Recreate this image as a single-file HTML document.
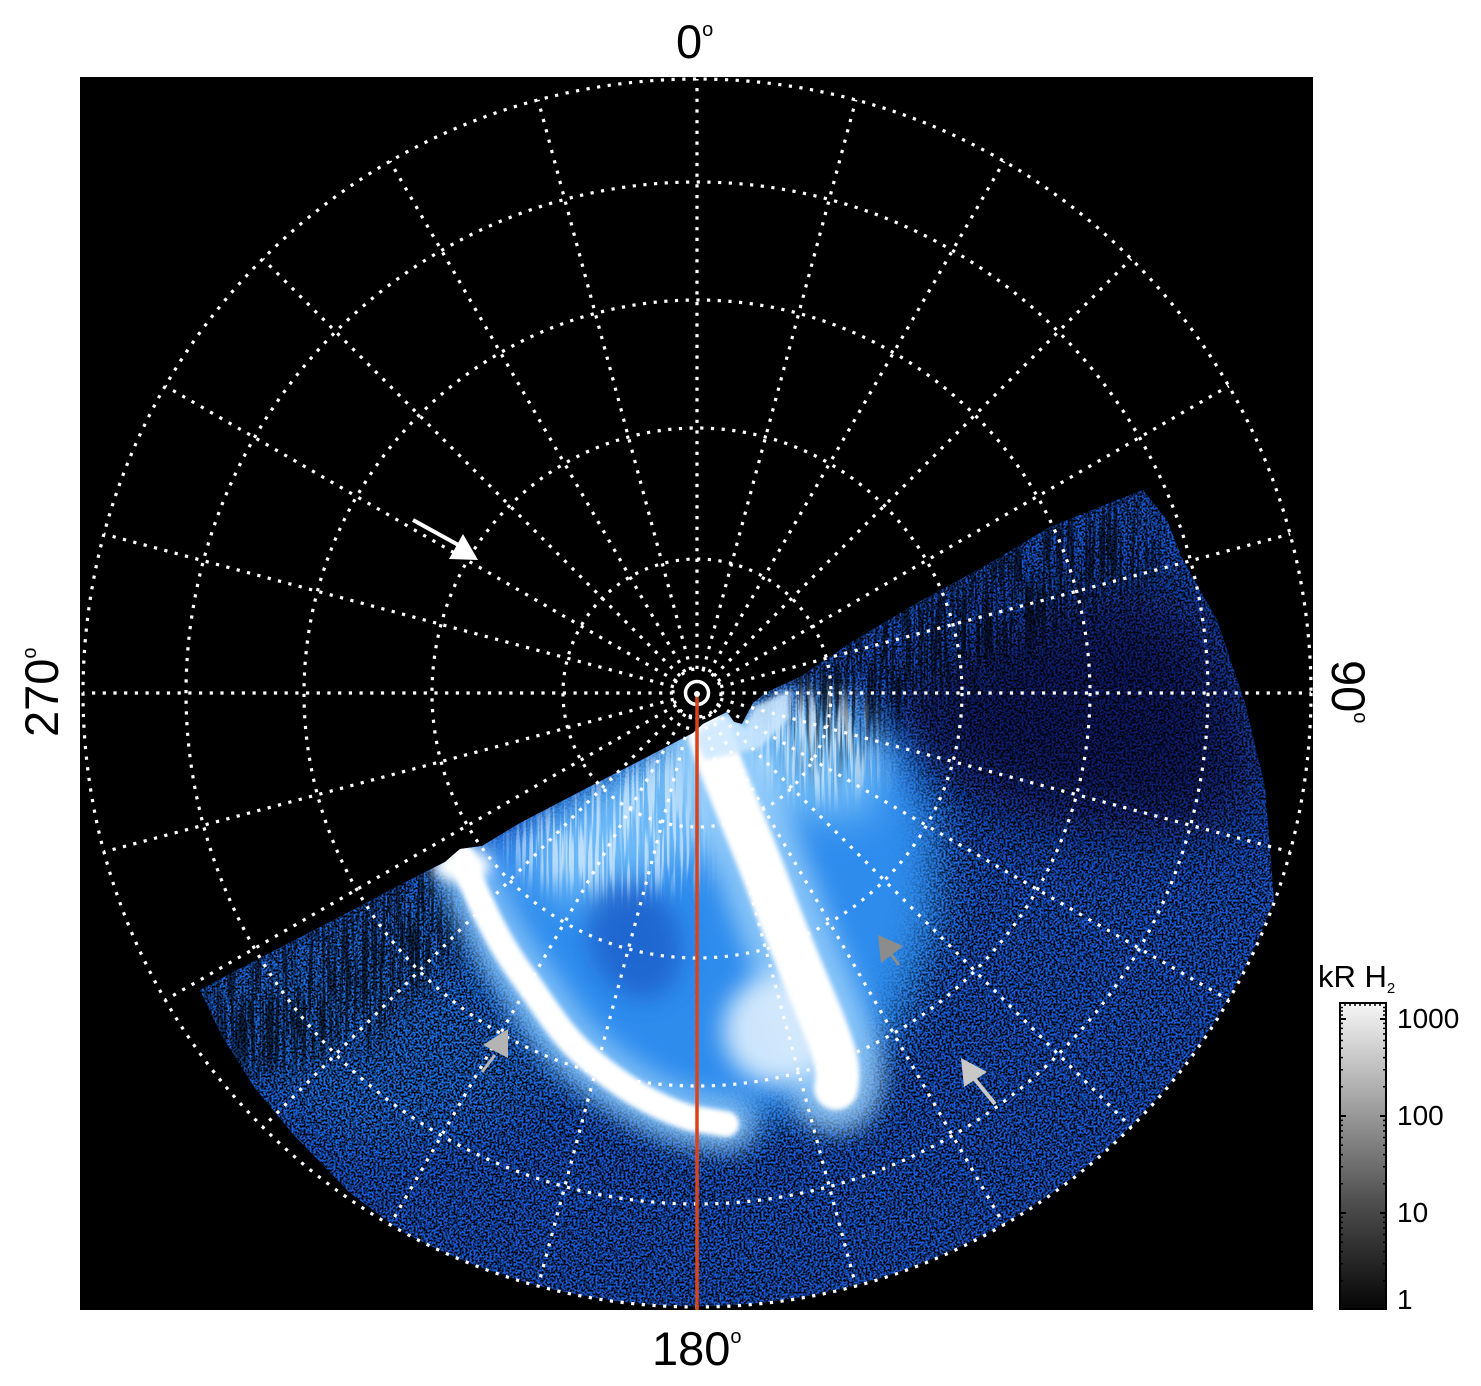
<!DOCTYPE html>
<html>
<head>
<meta charset="utf-8">
<style>
html,body{margin:0;padding:0;background:#fff;}
svg{display:block;}
text{font-family:"Liberation Sans","DejaVu Sans",sans-serif;fill:#000;}
</style>
</head>
<body>
<svg width="1481" height="1386" viewBox="0 0 1481 1386" xmlns="http://www.w3.org/2000/svg">
<defs>
  <clipPath id="dc">
    <path d="M 200 990 L 260 958 L 330 922 L 400 885 L 445 862 L 460 849 L 482 846 L 520 823 L 587 788 L 653 754 L 693 733 L 703 724 L 727 712 L 734 722 L 742 724 L 753 703 L 767 692 L 800 677 L 850 643 L 917 603 L 983 567 L 1050 527 L 1117 500 L 1143 490 L 1167 520 L 1183 560 L 1217 620 L 1245 703 L 1265 787 L 1274 900 A 614 614 0 0 1 400 1230 L 350 1193 L 292 1133 L 255 1088 L 222 1036 Z"/>
  </clipPath>
  <filter id="b40" x="-50%" y="-50%" width="200%" height="200%"><feGaussianBlur stdDeviation="32"/></filter>
  <filter id="b20" x="-50%" y="-50%" width="200%" height="200%"><feGaussianBlur stdDeviation="20"/></filter>
  <filter id="b12" x="-50%" y="-50%" width="200%" height="200%"><feGaussianBlur stdDeviation="12"/></filter>
  <filter id="b6" x="-50%" y="-50%" width="200%" height="200%"><feGaussianBlur stdDeviation="6"/></filter>
  <filter id="b3" x="-50%" y="-50%" width="200%" height="200%"><feGaussianBlur stdDeviation="2.5"/></filter>
  <filter id="spk" filterUnits="userSpaceOnUse" x="80" y="77" width="1233" height="1233" color-interpolation-filters="sRGB">
    <feTurbulence type="fractalNoise" baseFrequency="0.5" numOctaves="2" seed="4"/>
    <feColorMatrix type="matrix" values="0 0 0 0 0  0 0 0 0 0  0 0 0 0 0  6 0 0 0 -2.6"/>
  </filter>
  <filter id="stk" filterUnits="userSpaceOnUse" x="80" y="77" width="1233" height="1233" color-interpolation-filters="sRGB">
    <feTurbulence type="fractalNoise" baseFrequency="0.35 0.012" numOctaves="2" seed="11"/>
    <feColorMatrix type="matrix" values="0 0 0 0 0  0 0 0 0 0  0 0 0 0 0  7 0 0 0 -3.1"/>
  </filter>
  <filter id="stkw" filterUnits="userSpaceOnUse" x="80" y="77" width="1233" height="1233" color-interpolation-filters="sRGB">
    <feTurbulence type="fractalNoise" baseFrequency="0.3 0.012" numOctaves="2" seed="23"/>
    <feColorMatrix type="matrix" values="0 0 0 0 1  0 0 0 0 1  0 0 0 0 1  7 0 0 0 -3.2"/>
  </filter>
  <mask id="mk" maskUnits="userSpaceOnUse" x="0" y="0" width="1481" height="1386">
    <rect x="0" y="0" width="1481" height="1386" fill="#fff"/>
    <path d="M 440 850 L 600 770 L 700 715 L 820 690 L 900 730 L 935 820 L 930 930 L 890 1030 L 850 1090 L 760 1120 L 680 1125 L 600 1090 L 530 1030 L 480 940 Z" fill="#000" filter="url(#b20)"/>
  </mask>
  <mask id="ms" maskUnits="userSpaceOnUse" x="0" y="0" width="1481" height="1386">
    <path d="M 195 985 L 455 850 L 470 885 L 450 960 L 380 1040 L 260 1080 L 215 1040 Z" fill="#fff" filter="url(#b12)"/>
    <polyline transform="translate(0,25)" points="790,700 850,660 917,620 983,585 1050,545 1117,518 1160,505" fill="none" stroke="#fff" stroke-width="110" filter="url(#b20)"/>
  </mask>
  <mask id="mw" maskUnits="userSpaceOnUse" x="0" y="0" width="1481" height="1386">
    <path d="M 500 840 L 600 785 L 700 735 L 705 880 L 610 890 L 530 880 Z" fill="#fff" filter="url(#b12)"/>
    <path d="M 740 730 L 800 690 L 860 700 L 880 780 L 820 800 L 760 780 Z" fill="#fff" filter="url(#b12)"/>
  </mask>
  <linearGradient id="cbg" x1="0" y1="1" x2="0" y2="0">
    <stop offset="0" stop-color="#060606"/>
    <stop offset="0.33" stop-color="#4a4a4a"/>
    <stop offset="0.64" stop-color="#9a9a9a"/>
    <stop offset="1" stop-color="#f6f6f6"/>
  </linearGradient>
</defs>

<rect x="0" y="0" width="1481" height="1386" fill="#fff"/>
<rect x="80" y="77" width="1233" height="1233" fill="#000"/>

<!-- auroral data -->
<g clip-path="url(#dc)">
  <rect x="80" y="77" width="1233" height="1233" fill="rgb(24,92,218)"/>
  <!-- dark upper-right region -->
  <path d="M 880 705 L 1000 630 L 1100 590 L 1200 600 L 1250 700 L 1262 800 L 1200 840 L 1050 830 L 940 780 Z" fill="rgb(8,30,110)" filter="url(#b40)"/>
  <!-- left fringe -->
  <path d="M 190 985 L 470 845 L 520 990 L 580 1080 L 480 1130 L 350 1150 L 250 1080 Z" fill="rgb(30,112,230)" filter="url(#b20)"/>
  <!-- interior brighter -->
  <path d="M 470 860 L 600 770 L 700 720 L 820 700 L 900 740 L 945 820 L 945 920 L 915 1010 L 870 1080 L 780 1125 L 690 1135 L 600 1100 L 530 1030 L 490 950 Z" fill="rgb(45,140,237)" filter="url(#b20)"/>
  <!-- light upper interior -->
  <path d="M 520 850 L 600 790 L 700 725 L 760 705 L 840 700 L 885 745 L 870 820 L 790 815 L 720 840 L 640 880 L 570 910 Z" fill="rgb(115,190,248)" opacity="0.9" filter="url(#b20)"/>
  <!-- darker interior patch -->
  <ellipse cx="635" cy="940" rx="45" ry="60" transform="rotate(-20 635 940)" fill="rgb(18,80,190)" opacity="0.6" filter="url(#b12)"/>
  <!-- speckle -->
  <rect x="80" y="77" width="1233" height="1233" filter="url(#spk)" mask="url(#mk)"/>
  <!-- dark streaks in fringes -->
  <rect x="80" y="77" width="1233" height="1233" filter="url(#stk)" mask="url(#ms)" opacity="0.65"/>
  <!-- light streaks in interior -->
  <rect x="80" y="77" width="1233" height="1233" filter="url(#stkw)" mask="url(#mw)" opacity="0.55"/>
  <!-- glows -->
  <path d="M 462 858 C 480 905, 500 945, 522 975 S 560 1035, 590 1060 S 650 1105, 690 1118 L 728 1124" fill="none" stroke="rgb(140,200,250)" stroke-width="56" stroke-linecap="round" opacity="0.85" filter="url(#b12)"/>
  <path d="M 710 735 C 728 790, 752 840, 770 890 S 808 985, 822 1020 S 840 1070, 836 1088" fill="none" stroke="rgb(150,205,250)" stroke-width="90" stroke-linecap="round" opacity="0.85" filter="url(#b12)"/>
  <ellipse cx="778" cy="1030" rx="55" ry="55" fill="rgb(215,235,253)" opacity="0.95" filter="url(#b12)"/>
  <!-- white cores -->
  <path d="M 462 858 C 480 905, 500 945, 522 975 S 560 1035, 590 1060 S 650 1105, 690 1118 L 726 1124" fill="none" stroke="#fff" stroke-width="26" stroke-linecap="round" filter="url(#b3)"/>
  <path d="M 710 735 C 728 790, 752 840, 770 890 S 808 985, 822 1020 S 840 1070, 836 1088" fill="none" stroke="#fff" stroke-width="44" stroke-linecap="round" filter="url(#b3)"/>
  <ellipse cx="462" cy="866" rx="28" ry="16" fill="#fff" filter="url(#b6)"/>
  <path d="M 695 740 L 703 726 L 727 714 L 745 728 L 755 706 L 790 690 L 790 718 L 760 748 L 705 760 Z" fill="rgb(205,232,255)" opacity="0.85" filter="url(#b3)"/>
</g>

<!-- grid -->
<g fill="none" stroke="#fff" stroke-width="3.2" stroke-dasharray="3.2 7.5">
  <circle cx="697" cy="693" r="614"/>
  <circle cx="697" cy="693" r="511"/>
  <circle cx="697" cy="693" r="393"/>
  <circle cx="697" cy="693" r="265"/>
  <circle cx="697" cy="693" r="134"/>
  <circle cx="697" cy="693" r="24"/>
  <line x1="697" y1="669" x2="697" y2="79"/>
  <line x1="697" y1="669" x2="697" y2="79" transform="rotate(15 697 693)"/>
  <line x1="697" y1="669" x2="697" y2="79" transform="rotate(30 697 693)"/>
  <line x1="697" y1="669" x2="697" y2="79" transform="rotate(45 697 693)"/>
  <line x1="697" y1="669" x2="697" y2="79" transform="rotate(60 697 693)"/>
  <line x1="697" y1="669" x2="697" y2="79" transform="rotate(75 697 693)"/>
  <line x1="697" y1="669" x2="697" y2="79" transform="rotate(90 697 693)"/>
  <line x1="697" y1="669" x2="697" y2="79" transform="rotate(105 697 693)"/>
  <line x1="697" y1="669" x2="697" y2="79" transform="rotate(120 697 693)"/>
  <line x1="697" y1="669" x2="697" y2="79" transform="rotate(135 697 693)"/>
  <line x1="697" y1="669" x2="697" y2="79" transform="rotate(150 697 693)"/>
  <line x1="697" y1="669" x2="697" y2="79" transform="rotate(165 697 693)"/>
  <line x1="697" y1="669" x2="697" y2="79" transform="rotate(180 697 693)"/>
  <line x1="697" y1="669" x2="697" y2="79" transform="rotate(195 697 693)"/>
  <line x1="697" y1="669" x2="697" y2="79" transform="rotate(210 697 693)"/>
  <line x1="697" y1="669" x2="697" y2="79" transform="rotate(225 697 693)"/>
  <line x1="697" y1="669" x2="697" y2="79" transform="rotate(240 697 693)"/>
  <line x1="697" y1="669" x2="697" y2="79" transform="rotate(255 697 693)"/>
  <line x1="697" y1="669" x2="697" y2="79" transform="rotate(270 697 693)"/>
  <line x1="697" y1="669" x2="697" y2="79" transform="rotate(285 697 693)"/>
  <line x1="697" y1="669" x2="697" y2="79" transform="rotate(300 697 693)"/>
  <line x1="697" y1="669" x2="697" y2="79" transform="rotate(315 697 693)"/>
  <line x1="697" y1="669" x2="697" y2="79" transform="rotate(330 697 693)"/>
  <line x1="697" y1="669" x2="697" y2="79" transform="rotate(345 697 693)"/>
</g>

<!-- center marker and red meridian -->
<circle cx="697" cy="693" r="11.5" fill="none" stroke="#fff" stroke-width="3.5"/>
<line x1="697" y1="693" x2="697" y2="1310" stroke="#d8431b" stroke-width="3.5"/>
<circle cx="697" cy="694" r="3" fill="#fff"/>

<!-- arrows -->
<line x1="413" y1="520" x2="462" y2="547" stroke="#fff" stroke-width="4"/>
<polygon points="449,559 463,534 478,560" fill="#fff"/>
<line x1="890" y1="953" x2="899" y2="965" stroke="#8c8c8c" stroke-width="3"/>
<polygon points="878,935 903,946 881,963" fill="#8c8c8c"/>
<line x1="973" y1="1077" x2="995" y2="1104" stroke="#c8c8c8" stroke-width="4"/>
<polygon points="961,1058 987,1072 964,1087" fill="#c8c8c8"/>
<line x1="495" y1="1055" x2="482" y2="1072" stroke="#b4b4b4" stroke-width="3"/>
<polygon points="483,1045 508,1029 508,1058" fill="#b4b4b4"/>

<!-- axis labels -->
<text x="676" y="58" font-size="47">0<tspan font-size="20" dy="-22">o</tspan></text>
<text x="652" y="1365" font-size="47">180<tspan font-size="20" dy="-22">o</tspan></text>
<text transform="translate(58,737) rotate(-90)" font-size="47">270<tspan font-size="20" dy="-22">o</tspan></text>
<text transform="translate(1332,660) rotate(90)" font-size="47">90<tspan font-size="20" dy="-22">o</tspan></text>

<!-- colorbar -->
<text x="1318" y="987" font-size="31">kR H<tspan font-size="15" dy="6">2</tspan></text>
<rect x="1340" y="1003" width="46" height="306" fill="url(#cbg)" stroke="#000" stroke-width="2"/>
<path stroke="#000" stroke-width="2" fill="none" d="
M1340 1019 h6 M1386 1019 h-6
M1340 1116 h6 M1386 1116 h-6
M1340 1213 h6 M1386 1213 h-6
"/>
<path stroke="#000" stroke-width="1.5" fill="none" d="
M1340 1280.8 h3 M1386 1280.8 h-3 M1340 1263.7 h3 M1386 1263.7 h-3 M1340 1251.6 h3 M1386 1251.6 h-3 M1340 1242.2 h3 M1386 1242.2 h-3
M1340 1234.5 h3 M1386 1234.5 h-3 M1340 1228 h3 M1386 1228 h-3 M1340 1222.4 h3 M1386 1222.4 h-3 M1340 1217.4 h3 M1386 1217.4 h-3
M1340 1183.8 h3 M1386 1183.8 h-3 M1340 1166.7 h3 M1386 1166.7 h-3 M1340 1154.6 h3 M1386 1154.6 h-3 M1340 1145.2 h3 M1386 1145.2 h-3
M1340 1137.5 h3 M1386 1137.5 h-3 M1340 1131 h3 M1386 1131 h-3 M1340 1125.4 h3 M1386 1125.4 h-3 M1340 1120.4 h3 M1386 1120.4 h-3
M1340 1086.8 h3 M1386 1086.8 h-3 M1340 1069.7 h3 M1386 1069.7 h-3 M1340 1057.6 h3 M1386 1057.6 h-3 M1340 1048.2 h3 M1386 1048.2 h-3
M1340 1040.5 h3 M1386 1040.5 h-3 M1340 1034 h3 M1386 1034 h-3 M1340 1028.4 h3 M1386 1028.4 h-3 M1340 1023.4 h3 M1386 1023.4 h-3
M1340 1015 h3 M1386 1015 h-3 M1340 1011 h3 M1386 1011 h-3 M1340 1007.5 h3 M1386 1007.5 h-3
M1345 1003 v3 M1350 1003 v3 M1355 1003 v3 M1360 1003 v3 M1365 1003 v3 M1370 1003 v3 M1375 1003 v3 M1380 1003 v3
"/>
<text x="1397" y="1028" font-size="28">1000</text>
<text x="1397" y="1125" font-size="28">100</text>
<text x="1397" y="1222" font-size="28">10</text>
<text x="1397" y="1309" font-size="28">1</text>
</svg>
</body>
</html>
